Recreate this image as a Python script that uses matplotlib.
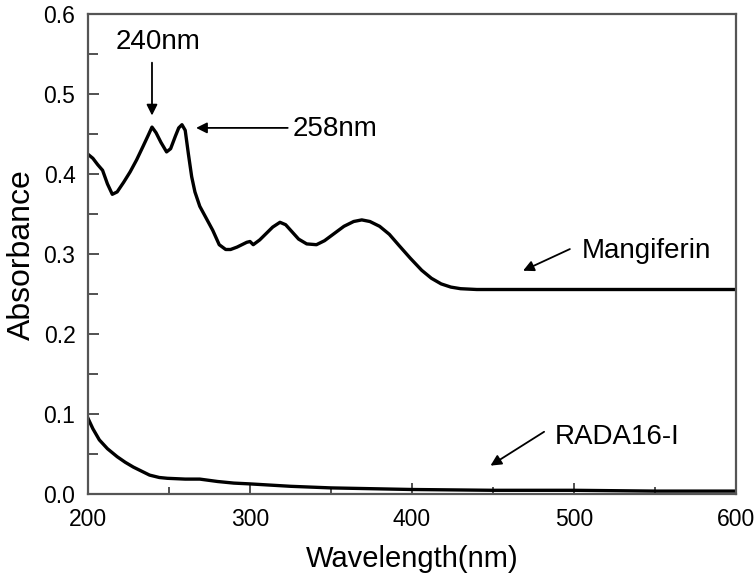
import matplotlib
matplotlib.use("Agg")
import matplotlib.pyplot as plt
from matplotlib.ticker import MultipleLocator

plt.rcParams['font.family'] = ['Liberation Sans', 'DejaVu Sans']

# Mangiferin spectrum
mang_wl = [200, 203, 206, 209, 212, 215, 218, 222, 226, 230, 234, 237, 239.5, 242, 245,
           248.5, 251, 254, 256, 258, 260, 262, 264, 266, 269, 273, 277, 281, 285, 288,
           292, 295, 298, 300, 302, 306, 310, 314, 318.5, 322, 326, 330, 335, 341, 346,
           352, 358, 364, 369, 374, 380, 386, 392, 399, 406, 412, 418, 424, 430, 440,
           460, 480, 500, 520, 540, 560, 580, 600]
mang_abs = [0.425, 0.420, 0.412, 0.405, 0.388, 0.375, 0.378, 0.390, 0.403, 0.418, 0.435,
            0.448, 0.459, 0.452, 0.440, 0.428, 0.432, 0.448, 0.458, 0.462, 0.455, 0.425,
            0.397, 0.378, 0.360, 0.345, 0.330, 0.312, 0.306, 0.306, 0.309, 0.312, 0.315,
            0.316, 0.312, 0.318, 0.326, 0.334, 0.340, 0.337, 0.328, 0.319, 0.313, 0.312,
            0.317, 0.326, 0.335, 0.341, 0.343, 0.341, 0.335, 0.325, 0.311, 0.295, 0.280,
            0.270, 0.263, 0.259, 0.257, 0.256, 0.256, 0.256, 0.256, 0.256, 0.256, 0.256,
            0.256, 0.256]

# RADA16-I spectrum
rada_wl = [200, 203, 207, 212, 218, 223, 228, 233, 238, 244, 249, 260, 269, 280, 290,
           300, 325, 350, 375, 400, 450, 500, 550, 600]
rada_abs = [0.095, 0.082, 0.068, 0.057, 0.047, 0.040, 0.034, 0.029, 0.024, 0.021, 0.020,
            0.019, 0.019, 0.016, 0.014, 0.013, 0.010, 0.008, 0.007, 0.006, 0.005, 0.005,
            0.004, 0.004]

xticks = [200, 300, 400, 500, 600]
yticks = [0.0, 0.1, 0.2, 0.3, 0.4, 0.5, 0.6]

fig = plt.figure(figsize=(7.54, 5.76), dpi=100)
ax = fig.add_axes([88/754, 1 - 494.3/576, (736-88)/754, (494.3-14.3)/576])

ax.plot(mang_wl, mang_abs, color='black', lw=2.4)
ax.plot(rada_wl, rada_abs, color='black', lw=2.4)

ax.set_xlim(200, 600)
ax.set_ylim(0.0, 0.6)
ax.set_xticks(xticks)
ax.set_yticks(yticks)
ax.set_yticklabels([f"{v:.1f}" for v in yticks])
ax.xaxis.set_minor_locator(MultipleLocator(50))
ax.yaxis.set_minor_locator(MultipleLocator(0.05))
ax.tick_params(axis='both', which='major', direction='in', length=8, width=1.2,
               labelsize=16.5, color='#333333')
ax.tick_params(axis='x', which='major', pad=10)
ax.tick_params(axis='y', which='major', pad=9)
ax.tick_params(axis='both', which='minor', direction='in', length=7, width=1.2,
               color='#333333')
ax.tick_params(axis='x', which='minor', length=5)
for s in ax.spines.values():
    s.set_linewidth(1.6)
    s.set_color('#555555')

ax.set_xlabel('Wavelength(nm)', fontsize=21, labelpad=10)
ax.set_ylabel('Absorbance', fontsize=23, labelpad=5)

arrow = dict(arrowstyle='-|>', color='black', lw=1.3, mutation_scale=16)
ax.annotate('', xy=(239.5, 0.470), xytext=(239.5, 0.543), arrowprops=arrow)
ax.text(243, 0.565, '240nm', fontsize=20, ha='center', va='center')
ax.annotate('', xy=(265, 0.458), xytext=(325, 0.458), arrowprops=arrow)
ax.text(326.5, 0.457, '258nm', fontsize=20, ha='left', va='center')
ax.annotate('', xy=(467, 0.278), xytext=(499, 0.308), arrowprops=arrow)
ax.text(505, 0.304, 'Mangiferin', fontsize=20, ha='left', va='center')
ax.annotate('', xy=(447, 0.034), xytext=(483, 0.080), arrowprops=arrow)
ax.text(488, 0.071, 'RADA16-I', fontsize=20, ha='left', va='center')

fig.savefig('out.png', dpi=100)
